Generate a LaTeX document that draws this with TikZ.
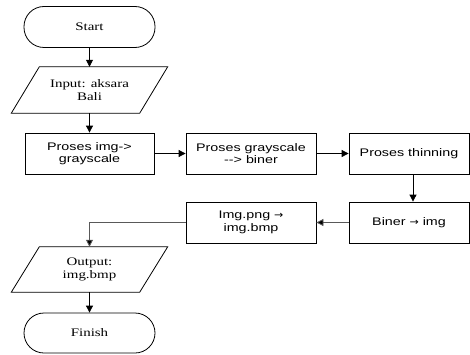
\documentclass[tikz,border=0pt]{standalone}
\usepackage{fontspec}
\newfontfamily\boxsans[FakeStretch=1.3]{Liberation Sans}
\newfontfamily\boxserif[FakeStretch=1.3]{Liberation Serif}
\newfontfamily\arrowfont[FakeStretch=1.1]{DejaVu Sans}
\newcommand{\rarr}{{\arrowfont\fontsize{10}{12.5}\selectfont →}}
\usetikzlibrary{arrows.meta,calc}
\tikzset{
  base/.style={draw, line width=0.8pt, align=center, inner sep=0pt},
  proc/.style={base, rectangle, minimum height=41pt, font=\boxsans\fontsize{11}{12.5}\selectfont},
  term/.style={base, rounded corners=20pt, minimum width=131pt, font=\boxserif\fontsize{11.5}{12.5}\selectfont},
  iobox/.style={rectangle, inner sep=0pt, align=center, minimum width=128pt, minimum height=46pt, font=\boxserif\fontsize{11.5}{12.5}\selectfont},
  arr/.style={-{Triangle[length=7pt,width=7pt]}, line width=0.8pt},
  garr/.style={arr, draw=black!65, -{Triangle[length=7pt,width=7pt,fill=black]}}
}
\begin{document}
\begin{tikzpicture}[x=1pt,y=1pt]
\useasboundingbox (0,0) rectangle (470,354);
% terminals
\node[term, minimum height=41pt] (start) at (89.5,327) {Start};
\node[term, minimum height=40pt] (finish) at (89.5,21) {Finish};
% input / output
\node[iobox] (inp) at (89.5,264) {Input: aksara\\Bali};
\draw[line width=0.8pt] ($(inp.north west)+(14,0)$) -- ($(inp.north east)+(14,0)$) -- ($(inp.south east)+(-14,0)$) -- ($(inp.south west)+(-14,0)$) -- cycle;
\node[iobox, minimum height=45pt] (out) at (89.5,84.5) {Output:\\img.bmp};
\draw[line width=0.8pt] ($(out.north west)+(14,0)$) -- ($(out.north east)+(14,0)$) -- ($(out.south east)+(-14,0)$) -- ($(out.south west)+(-14,0)$) -- cycle;
% processes
\node[proc, minimum width=129pt] (b1) at (89.5,200.5) {Proses img-\textgreater\\grayscale};
\node[proc, minimum width=130pt] (b2) at (251,200.5) {Proses grayscale\\--\textgreater{} biner};
\node[proc, minimum width=120pt] (b3) at (409,200.5) {Proses thinning};
\node[proc, minimum width=120pt] (b4) at (409,131.5) {Biner \rarr{} img};
\node[proc, minimum width=130pt] (b5) at (251,131.5) {Img.png \rarr\\img.bmp};
% connectors
\draw[arr] (start) -- (inp);
\draw[arr] (inp.south) -- (b1);
\draw[arr] (b1) -- (b2);
\draw[arr] (b2) -- (b3);
\draw[arr] ([xshift=4pt]b3.south) -- ([xshift=4pt]b4.north);
\draw[garr] (b4) -- (b5);
\draw[garr] (b5.west) -| (out.north);
\draw[arr] (out.south) -- (finish);
\end{tikzpicture}
\end{document}
